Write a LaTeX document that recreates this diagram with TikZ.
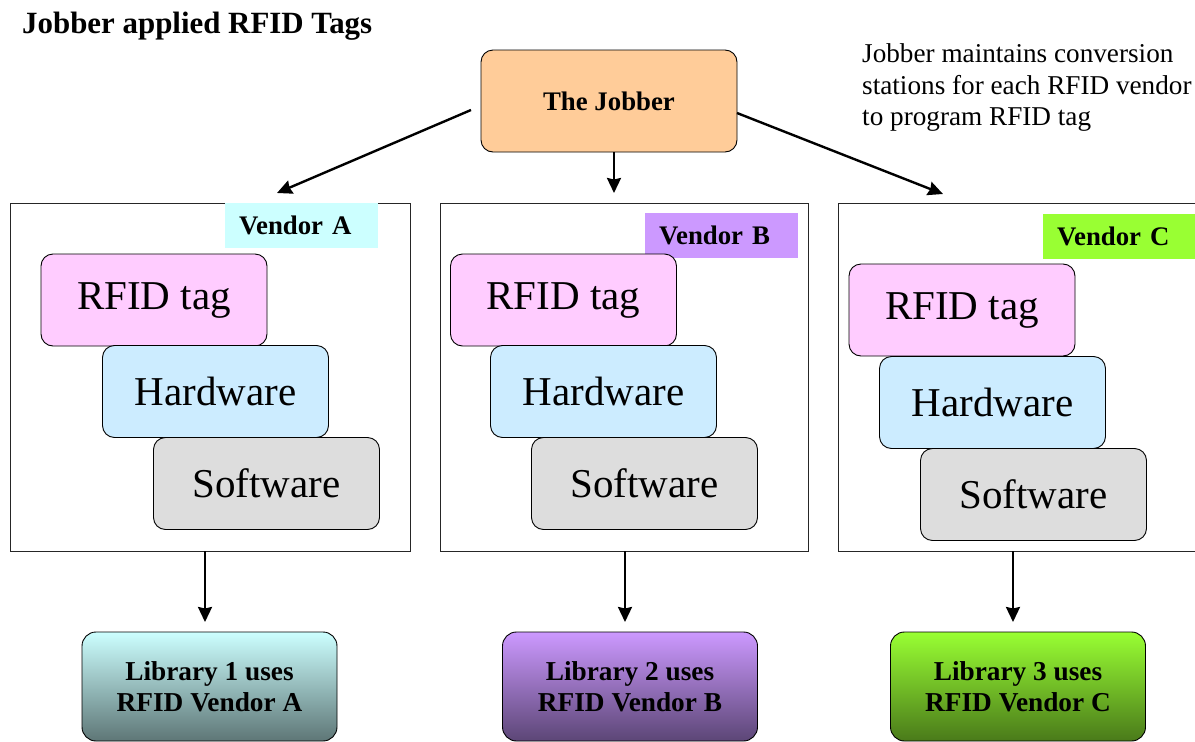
\documentclass[tikz,border=0pt]{standalone}
\usepackage{fontspec}
\setmainfont{Liberation Serif}
\usetikzlibrary{arrows.meta}
\definecolor{jobberfill}{HTML}{FFCC99}
\definecolor{vendA}{HTML}{CCFFFF}
\definecolor{vendB}{HTML}{CC99FF}
\definecolor{vendC}{HTML}{99FF33}
\definecolor{vendAdark}{HTML}{5E7676}
\definecolor{vendBdark}{HTML}{5C4676}
\definecolor{vendCdark}{HTML}{4A7A1A}
\definecolor{tagfill}{HTML}{FFCCFF}
\definecolor{hwfill}{HTML}{CCECFF}
\definecolor{swfill}{HTML}{DDDDDD}
\begin{document}
\begin{tikzpicture}[x=1pt,y=-1pt,
  frame/.style={draw=black!85, line width=0.9pt, inner sep=0pt},
  vlabel/.style={anchor=north west, inner xsep=14pt, inner ysep=0pt,
    minimum height=45pt, text width=125pt, align=left,
    font=\fontsize{26.8}{30}\selectfont\bfseries},
  part/.style={draw, line width=0.9pt, rounded corners=12pt,
    minimum width=226pt, minimum height=92pt, inner sep=0pt,
    font=\fontsize{41}{45}\selectfont},
  tagbox/.style={part, fill=tagfill},
  hwbox/.style={part, fill=hwfill},
  swbox/.style={part, fill=swfill},
  lib/.style={draw, line width=0.9pt, rounded corners=14pt,
    minimum width=255pt, minimum height=109pt, inner sep=0pt, align=center,
    font=\fontsize{27.3}{31}\selectfont\bfseries},
  arr/.style={line width=2.4pt, -{Stealth[length=15pt,width=14pt,inset=1.5pt]}}]
\clip (0,0) rectangle (1195,742);

% heading and side note
\node[anchor=base west, inner sep=0pt, font=\fontsize{30.9}{34}\selectfont\bfseries]
  (title) at (22,33.5) {Jobber applied RFID Tags};
\node[anchor=north west, inner sep=0pt, align=left,
  font=\fontsize{27.2}{31.5}\selectfont]
  (note) at (862,43.5) {Jobber maintains conversion\\stations for each RFID vendor\\to program RFID tag};

% the jobber
\node[draw, line width=0.9pt, rounded corners=12pt, fill=jobberfill,
  minimum width=256pt, minimum height=102pt,
  font=\fontsize{26.8}{30}\selectfont\bfseries] (jobber) at (609,101) {The Jobber};

% vendor stations
\node[frame, minimum width=400pt, minimum height=348pt] (contA) at (210,377) {};
\node[frame, minimum width=368pt, minimum height=348pt] (contB) at (624,377) {};
\node[frame, minimum width=377pt, minimum height=348pt] (contC) at (1026.5,377) {};

\node[vlabel, fill=vendA] (labA) at (225,203) {Vendor A};
\node[vlabel, fill=vendB] (labB) at (645,213) {Vendor B};
\node[vlabel, fill=vendC] (labC) at (1043,213.5) {Vendor C};

\node[tagbox] (tagA) at (154,300) {RFID tag};
\node[hwbox]  (hwA)  at (215.5,391.5) {Hardware};
\node[swbox]  (swA)  at (266.5,483.5) {Software};

\node[tagbox] (tagB) at (563.5,300) {RFID tag};
\node[hwbox]  (hwB)  at (603.5,391.5) {Hardware};
\node[swbox]  (swB)  at (644.5,483.5) {Software};

\node[tagbox] (tagC) at (962,310) {RFID tag};
\node[hwbox]  (hwC)  at (992.5,402.5) {Hardware};
\node[swbox]  (swC)  at (1033.5,494.5) {Software};

% libraries
\node[lib, top color=vendA, bottom color=vendAdark] (libA) at (209.5,686.5) {Library 1 uses\\RFID Vendor A};
\node[lib, top color=vendB, bottom color=vendBdark] (libB) at (630,686.5) {Library 2 uses\\RFID Vendor B};
\node[lib, top color=vendC, bottom color=vendCdark] (libC) at (1018,686.5) {Library 3 uses\\RFID Vendor C};

% connectors
\coordinate (jl) at (471,110);
\coordinate (jr) at (737,113);
\coordinate (tl) at (277,193);
\coordinate (tm) at (614,193);
\coordinate (tr) at (943,194);
\draw[arr] (jl) -- (tl);
\draw[arr] (tm |- jobber.south) -- (tm);
\draw[arr] (jr) -- (tr);

\coordinate (da) at (205,622);
\coordinate (db) at (625,622);
\coordinate (dc) at (1013,622);
\draw[arr] (da |- contA.south) -- (da);
\draw[arr] (db |- contB.south) -- (db);
\draw[arr] (dc |- contC.south) -- (dc);
\end{tikzpicture}
\end{document}
